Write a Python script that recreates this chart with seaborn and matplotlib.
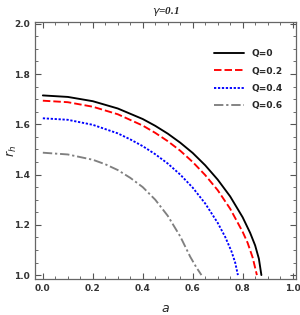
import numpy as np
import pandas as pd
import matplotlib
matplotlib.use("Agg")
import matplotlib.pyplot as plt
import seaborn as sns
from matplotlib.ticker import MultipleLocator

# values (gamma = 0.1)
a_q0 = [0.0, 0.1, 0.2, 0.3, 0.4, 0.45, 0.5, 0.55, 0.6, 0.65, 0.7, 0.75, 0.8, 0.83, 0.85, 0.865, 0.875]
r_q0 = [1.715, 1.709, 1.692, 1.663, 1.621, 1.594, 1.563, 1.527, 1.486, 1.437, 1.380, 1.313, 1.230, 1.168, 1.118, 1.065, 1.0]

a_q2 = [0.0, 0.1, 0.2, 0.3, 0.4, 0.45, 0.5, 0.55, 0.6, 0.65, 0.7, 0.75, 0.8, 0.82, 0.84, 0.857]
r_q2 = [1.694, 1.688, 1.670, 1.640, 1.595, 1.566, 1.533, 1.495, 1.450, 1.398, 1.338, 1.264, 1.172, 1.128, 1.070, 1.0]

a_q4 = [0.0, 0.1, 0.2, 0.3, 0.35, 0.4, 0.45, 0.5, 0.55, 0.6, 0.65, 0.7, 0.73, 0.755, 0.77, 0.781]
r_q4 = [1.624, 1.618, 1.598, 1.564, 1.540, 1.513, 1.481, 1.444, 1.400, 1.348, 1.285, 1.208, 1.152, 1.095, 1.050, 1.0]

a_q6 = [0.0, 0.1, 0.2, 0.25, 0.3, 0.35, 0.4, 0.45, 0.5, 0.55, 0.59, 0.615, 0.635]
r_q6 = [1.487, 1.480, 1.459, 1.441, 1.418, 1.387, 1.350, 1.300, 1.236, 1.154, 1.073, 1.030, 1.0]

labels = ["Q=0", "Q=0.2", "Q=0.4", "Q=0.6"]
colors = ["black", "red", "blue", "gray"]
dashes = ["-", (0, (4, 1.6)), (0, (1.2, 0.9)), (0, (5, 1.5, 1.2, 1.5))]

sns.set_style("ticks")
plt.rcParams["font.family"] = ["DejaVu Sans"]

fig = plt.figure(figsize=(3.0, 3.15), dpi=100)
ax = fig.add_axes([0.117, 0.114, 0.870, 0.816])

series = [(a_q0, r_q0), (a_q2, r_q2), (a_q4, r_q4), (a_q6, r_q6)]
for (a, r), lab, col, ls in zip(series, labels, colors, dashes):
    df = pd.DataFrame({"a": a, "r": r})
    sns.lineplot(data=df, x="a", y="r", ax=ax, color=col, label=lab,
                 linewidth=1.35, linestyle=ls, estimator=None)

ax.set_xlim(-0.031, 1.014)
ax.set_ylim(0.984, 2.007)
ax.xaxis.set_major_locator(MultipleLocator(0.2))
ax.xaxis.set_minor_locator(MultipleLocator(0.05))
ax.yaxis.set_major_locator(MultipleLocator(0.2))
ax.yaxis.set_minor_locator(MultipleLocator(0.05))
ax.tick_params(which="both", direction="in", top=True, right=True,
               color="#555555", labelsize=6.5)
ax.tick_params(which="major", length=4, width=0.8)
ax.tick_params(which="minor", length=2, width=0.6)
for lbl in ax.get_xticklabels() + ax.get_yticklabels():
    lbl.set_fontweight("bold")
    lbl.set_color("#333333")
for s in ax.spines.values():
    s.set_color("#666666")
    s.set_linewidth(0.9)

ax.set_xlabel("$a$", fontsize=9)
ax.set_ylabel("$r_h$", fontsize=9)
ax.xaxis.set_label_coords(0.5, -0.09)
ax.yaxis.set_label_coords(-0.062, 0.5)
ax.set_title(r"$\gamma$=0.1", fontsize=8, fontstyle="italic",
             fontweight="bold", family="Liberation Serif", pad=6)

leg = ax.legend(loc="upper right", bbox_to_anchor=(0.98, 0.925), frameon=False,
                fontsize=6.5, handlelength=3.4, labelspacing=0.9,
                handletextpad=0.8)
for t in leg.get_texts():
    t.set_fontweight("bold")

fig.savefig("out.png", dpi=100)
